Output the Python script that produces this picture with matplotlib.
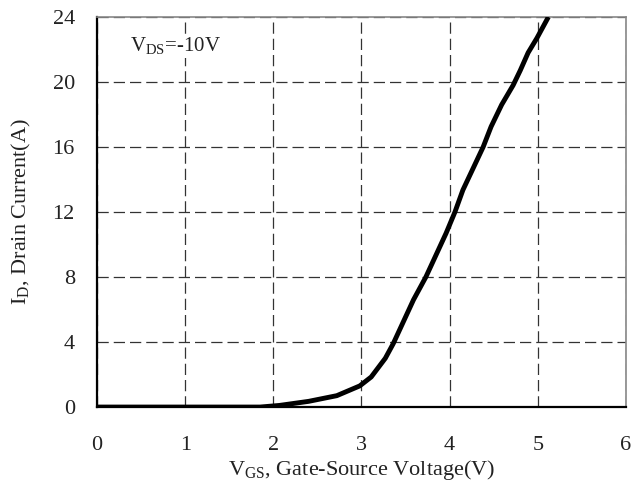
import numpy as np
import matplotlib.pyplot as plt

plt.rcParams['font.family'] = 'Liberation Serif'
plt.rcParams['mathtext.fontset'] = 'custom'
plt.rcParams['mathtext.rm'] = 'Liberation Serif'

# transfer characteristic, VDS = -10V
vgs = [0.0, 1.0, 1.85, 2.07, 2.4, 2.72, 2.98, 3.11, 3.27, 3.36, 3.59, 3.73,
       3.96, 4.06, 4.15, 4.38, 4.47, 4.59, 4.72, 4.80, 4.89, 4.99, 5.12]
id_a = [0.0, 0.0, 0.0, 0.1, 0.35, 0.7, 1.3, 1.85, 3.0, 3.9, 6.6, 8.0,
        10.7, 12.0, 13.35, 16.0, 17.25, 18.6, 19.8, 20.7, 21.8, 22.7, 24.0]

xticks = [0, 1, 2, 3, 4, 5, 6]
yticks = [0, 4, 8, 12, 16, 20, 24]

fig = plt.figure(figsize=(6.37, 4.84), dpi=100)
ax = fig.add_axes([0.1523, 0.159, 0.8304, 0.806])

ax.plot(vgs, id_a, color='black', lw=3.5, solid_capstyle='butt', zorder=3)

ax.set_xlim(0, 6)
ax.set_ylim(0, 24)
ax.set_xticks(xticks)
ax.set_yticks(yticks)
ax.tick_params(length=0, labelsize=16, colors='#222222')
ax.tick_params(axis='x', pad=21)
ax.tick_params(axis='y', pad=16)

ax.grid(True, color='#333333', lw=0.9, linestyle=(0, (9, 4)))

for side in ['left', 'bottom']:
    ax.spines[side].set_color('black')
    ax.spines[side].set_linewidth(1.6)
for side in ['top', 'right']:
    ax.spines[side].set_color('#888888')
    ax.spines[side].set_linewidth(1.2)

# condition label sits on a white patch so the grid doesn't run through it
ax.text(0.37, 21.9, r'V$_{\mathrm{DS}}$=-10V', fontsize=15, color='#222222',
        zorder=4, bbox=dict(facecolor='white', edgecolor='none', pad=1))

ax.set_xlabel(r'V$_{\mathrm{GS}}$, Gate-Source Voltage(V)', fontsize=16,
              color='#222222', labelpad=2)
ax.set_ylabel(r'I$_{\mathrm{D}}$, Drain Current(A)', fontsize=16,
              color='#222222', labelpad=14)

fig.savefig('out.png', dpi=100)
